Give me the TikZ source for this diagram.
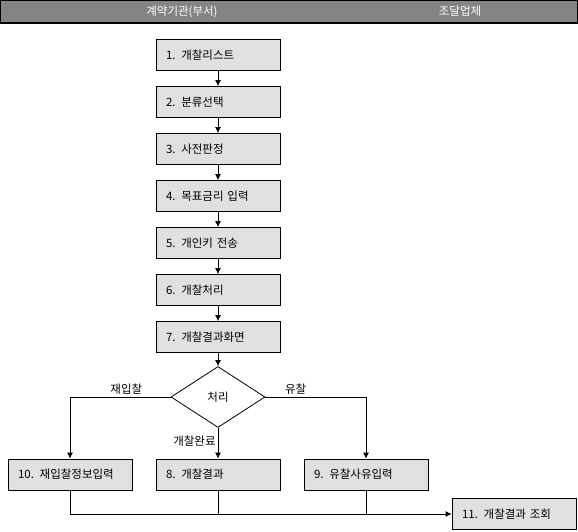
\documentclass[tikz,border=0pt]{standalone}
\usepackage{fontspec}
\setmainfont{Noto Sans CJK KR}
\usetikzlibrary{positioning,shapes.geometric,arrows.meta}
\definecolor{headgray}{RGB}{133,131,133}
\definecolor{boxgray}{RGB}{224,224,224}
\tikzset{
  stepbox/.style={draw, fill=boxgray, minimum height=31pt, text width=104pt,
    inner xsep=10pt, inner ysep=0pt, align=left},
  decision/.style={draw, diamond, inner sep=0pt, minimum width=94pt, minimum height=61pt},
  headtext/.style={text=white},
}
\begin{document}
\begin{tikzpicture}[x=1pt,y=1pt,>={Latex[length=6pt,width=6pt]},node distance=47pt,
  line width=0.8pt,font=\fontsize{11.5}{13}\selectfont]
\useasboundingbox (0,0) rectangle (578,531);
% header band
\draw[fill=headgray, line width=1.2pt] (0.6,530.4) rectangle (577.4,508);
\node[name=head_left, headtext] at (182,519.5){계약기관(부서)};
\node[name=head_right, headtext] at (460,519.5){조달업체};

\node[name=step_1, stepbox] at (218,476){1. 개찰리스트};
\node[name=step_2, stepbox, below of=step_1]{2. 분류선택};
\node[name=step_3, stepbox, below of=step_2]{3. 사전판정};
\node[name=step_4, stepbox, below of=step_3]{4. 목표금리 입력};
\node[name=step_5, stepbox, below of=step_4]{5. 개인키 전송};
\node[name=step_6, stepbox, below of=step_5]{6. 개찰처리};
\node[name=step_7, stepbox, below of=step_6]{7. 개찰결과화면};
\node[name=decide, decision, below of=step_7, node distance=60pt]{처리};
\node[name=step_8, stepbox, below of=decide, node distance=77.5pt]{8. 개찰결과};
\node[name=step_10, stepbox, left of=step_8, node distance=148pt]{10. 재입찰정보입력};
\node[name=step_9, stepbox, right of=step_8, node distance=148pt]{9. 유찰사유입력};
\node[name=step_11, stepbox] at (514,17){11. 개찰결과 조회};

\draw(step_1.south) edge[->](step_2.north);
\draw(step_2.south) edge[->](step_3.north);
\draw(step_3.south) edge[->](step_4.north);
\draw(step_4.south) edge[->](step_5.north);
\draw(step_5.south) edge[->](step_6.north);
\draw(step_6.south) edge[->](step_7.north);
\draw(step_7.south) edge[->](decide.north);
\draw(decide.south) edge[->]node[left, pos=0.42, inner sep=2pt]{개찰완료}(step_8.north);
\draw[->](decide.west) -| node[above, pos=0.22, inner sep=2pt]{재입찰}(step_10.north);
\draw[->](decide.east) -| node[above, pos=0.15, inner sep=2pt]{유찰}(step_9.north);

% merge into 11
\draw[->](step_10.south) |- (step_11.west);
\draw(step_8.south) -- (step_8.south |- step_11.west);
\draw(step_9.south) -- (step_9.south |- step_11.west);

\end{tikzpicture}
\end{document}
